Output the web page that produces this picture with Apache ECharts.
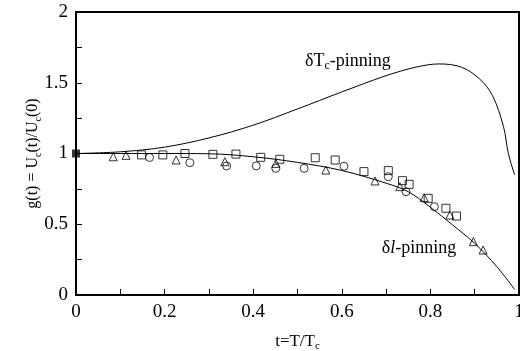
<!DOCTYPE html>
<html>
<head>
<meta charset="utf-8">
<script src="https://cdn.jsdelivr.net/npm/echarts@6/dist/echarts.min.js"></script>
<style>
  html, body { margin: 0; padding: 0; background: #fff; }
  #chart { width: 520px; height: 351px; }
</style>
</head>
<body>
<div id="chart"></div>
<script>
// theory curves (t, g)
const dTcT = [0, 0.1, 0.2, 0.3, 0.4, 0.5, 0.6, 0.7, 0.77, 0.82, 0.87, 0.91, 0.94, 0.965, 0.976, 0.99];
const dTcG = [1, 1.012, 1.045, 1.11, 1.2, 1.315, 1.435, 1.55, 1.612, 1.633, 1.61, 1.53, 1.41, 1.19, 1.0, 0.85];
const dlT = [0, 0.1, 0.2, 0.3, 0.4, 0.5, 0.6, 0.7, 0.75, 0.8, 0.85, 0.9, 0.95, 0.99];
const dlG = [1, 1.0, 1.0, 0.998, 0.977, 0.937, 0.88, 0.79, 0.73, 0.62, 0.495, 0.365, 0.2, 0.04];

// measured points
const circT = [0.166, 0.257, 0.340, 0.407, 0.451, 0.515, 0.605, 0.705, 0.745, 0.809];
const circG = [0.972, 0.935, 0.912, 0.912, 0.895, 0.895, 0.91, 0.836, 0.73, 0.624];
const sqT = [0.148, 0.196, 0.246, 0.309, 0.361, 0.417, 0.460, 0.540, 0.585, 0.650, 0.705, 0.737, 0.752, 0.795, 0.835, 0.859];
const sqG = [0.99, 0.99, 1.0, 0.994, 0.996, 0.973, 0.959, 0.97, 0.954, 0.872, 0.879, 0.808, 0.782, 0.683, 0.613, 0.558];
const triT = [0.084, 0.113, 0.226, 0.336, 0.451, 0.564, 0.675, 0.731, 0.786, 0.844, 0.897, 0.919];
const triG = [0.977, 0.987, 0.954, 0.942, 0.93, 0.883, 0.806, 0.766, 0.688, 0.565, 0.377, 0.318];
const originT = [0], originG = [1];

const font = 'Liberation Serif';
const zip = (a, b) => a.map((v, i) => [v, b[i]]);

const chart = echarts.init(document.getElementById('chart'));

const openMark = {color: 'rgba(0,0,0,0)', borderColor: '#000', borderWidth: 1};

chart.setOption({
  animation: false,
  grid: {
    left: 76, right: 1, top: 12, bottom: 56, show: true, borderColor: '#000', borderWidth: 2,
    outerBoundsMode: 'none', containLabel: false
  },
  xAxis: {
    type: 'value', min: 0, max: 1, interval: 0.1,
    axisLine: {lineStyle: {color: '#000', width: 2}},
    axisTick: {inside: true, length: 6, lineStyle: {color: '#000', width: 1}},
    splitLine: {show: false},
    axisLabel: {
      color: '#000', fontFamily: font, fontSize: 19, margin: 8,
      formatter: v => (Math.round(v * 10) % 2 === 0 ? String(Math.round(v * 10) / 10) : '')
    },
    name: '{a|t=T/T}{s|c}', nameLocation: 'middle', nameGap: 37, nameMoveOverlap: false,
    nameTextStyle: {
      rich: {
        a: {fontFamily: font, fontSize: 17, color: '#000', lineHeight: 20},
        s: {fontFamily: font, fontSize: 11, color: '#000', lineHeight: 11, verticalAlign: 'bottom'}
      }
    }
  },
  yAxis: {
    type: 'value', min: 0, max: 2, interval: 0.25,
    axisLine: {lineStyle: {color: '#000', width: 2}},
    axisTick: {inside: true, length: 6, lineStyle: {color: '#000', width: 1}},
    splitLine: {show: false},
    axisLabel: {
      color: '#000', fontFamily: font, fontSize: 19, margin: 8,
      formatter: v => (Math.round(v * 4) % 2 === 0 ? String(v) : '')
    },
    name: '{a|g(t) = U}{s|c}{a|(t)/U}{s|c}{a|(0)}', nameLocation: 'middle', nameGap: 33, nameRotate: 90,
    nameMoveOverlap: false,
    nameTextStyle: {
      rich: {
        a: {fontFamily: font, fontSize: 16, color: '#000', lineHeight: 20},
        s: {fontFamily: font, fontSize: 10, color: '#000', lineHeight: 11, verticalAlign: 'bottom'}
      }
    }
  },
  series: [
    {type: 'line', data: zip(dTcT, dTcG), smooth: 0.35, showSymbol: false, lineStyle: {color: '#000', width: 1}},
    {type: 'line', data: zip(dlT, dlG), smooth: 0.35, showSymbol: false, lineStyle: {color: '#000', width: 1}},
    {type: 'scatter', data: zip(circT, circG), symbol: 'circle', symbolSize: 8, itemStyle: openMark},
    {type: 'scatter', data: zip(sqT, sqG), symbol: 'rect', symbolSize: 8, itemStyle: openMark},
    {type: 'scatter', data: zip(triT, triG), symbol: 'triangle', symbolSize: 8, itemStyle: openMark},
    {type: 'scatter', data: zip(originT, originG), symbol: 'rect', symbolSize: 8, itemStyle: {color: '#000'}}
  ]
});

// curve labels, anchored in data coordinates
const p1 = chart.convertToPixel({gridIndex: 0}, [0.517, 1.655]);
const p2 = chart.convertToPixel({gridIndex: 0}, [0.69, 0.33]);
const labelRich = {
  a: {fontFamily: font, fontSize: 18, fill: '#000', lineHeight: 22},
  i: {fontFamily: font, fontSize: 18, fontStyle: 'italic', fill: '#000', lineHeight: 22},
  s: {fontFamily: font, fontSize: 12, fill: '#000', lineHeight: 12, verticalAlign: 'bottom'}
};
chart.setOption({
  graphic: [
    {type: 'text', x: p1[0], y: p1[1], style: {text: '{a|δT}{s|c}{a|-pinning}', rich: labelRich, verticalAlign: 'middle'}},
    {type: 'text', x: p2[0], y: p2[1], style: {text: '{a|δ}{i|l}{a|-pinning}', rich: labelRich, verticalAlign: 'middle'}}
  ]
});
</script>
</body>
</html>
